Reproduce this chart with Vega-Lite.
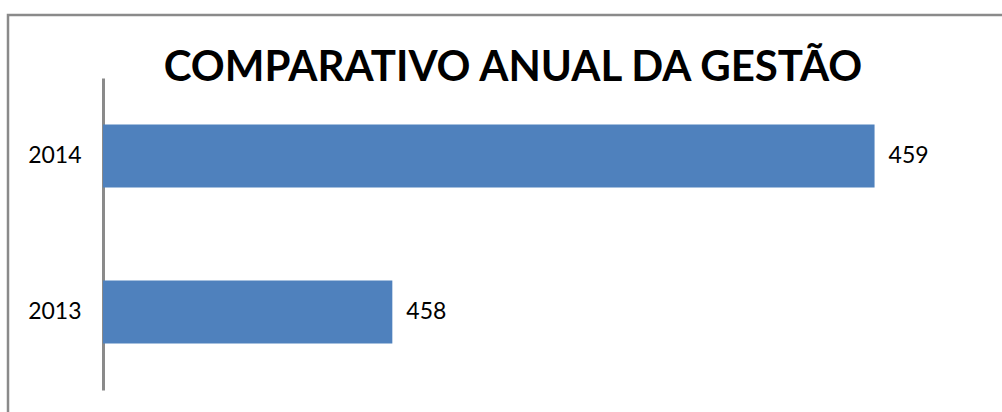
{
  "$schema": "https://vega.github.io/schema/vega-lite/v6.json",
  "autosize": "none",
  "padding": {"left": 8, "top": 15, "right": -16, "bottom": -13},
  "width": 1010,
  "height": 410,
  "background": "white",
  "config": {
    "view": {"stroke": "#8a8a8a", "strokeWidth": 2.5, "fill": "white"},
    "font": "Lato"
  },
  "title": {
    "text": "COMPARATIVO ANUAL DA GESTÃO",
    "font": "Lato",
    "fontSize": 42,
    "fontWeight": "bold",
    "color": "black",
    "anchor": "middle",
    "frame": "group",
    "baseline": "alphabetic",
    "offset": -108
  },
  "data": {
    "values": [
      {"ano": "2014", "valor": 459, "base": 457.4},
      {"ano": "2013", "valor": 458, "base": 457.4}
    ]
  },
  "encoding": {
    "y": {
      "field": "ano",
      "type": "nominal",
      "sort": "descending",
      "scale": {"range": [63, 375], "paddingInner": 0.596, "paddingOuter": 0.298},
      "axis": {
        "title": null,
        "orient": "left",
        "offset": -95,
        "domain": true,
        "domainColor": "#8a8a8a",
        "domainWidth": 3,
        "ticks": false,
        "labelPadding": 22,
        "labelFont": "Lato",
        "labelFontSize": 23,
        "labelColor": "black"
      }
    }
  },
  "layer": [
    {
      "mark": {"type": "bar", "color": "#4F81BD"},
      "encoding": {
        "x": {
          "field": "valor",
          "type": "quantitative",
          "scale": {"domain": [457.4, 459.2], "range": [95, 963], "zero": false, "nice": false},
          "axis": null
        },
        "x2": {"field": "base"}
      }
    },
    {
      "mark": {"type": "text", "align": "left", "baseline": "middle", "dx": 14, "fontSize": 23, "font": "Lato", "color": "black"},
      "encoding": {
        "x": {"field": "valor", "type": "quantitative"},
        "text": {"field": "valor", "type": "quantitative"}
      }
    }
  ]
}
